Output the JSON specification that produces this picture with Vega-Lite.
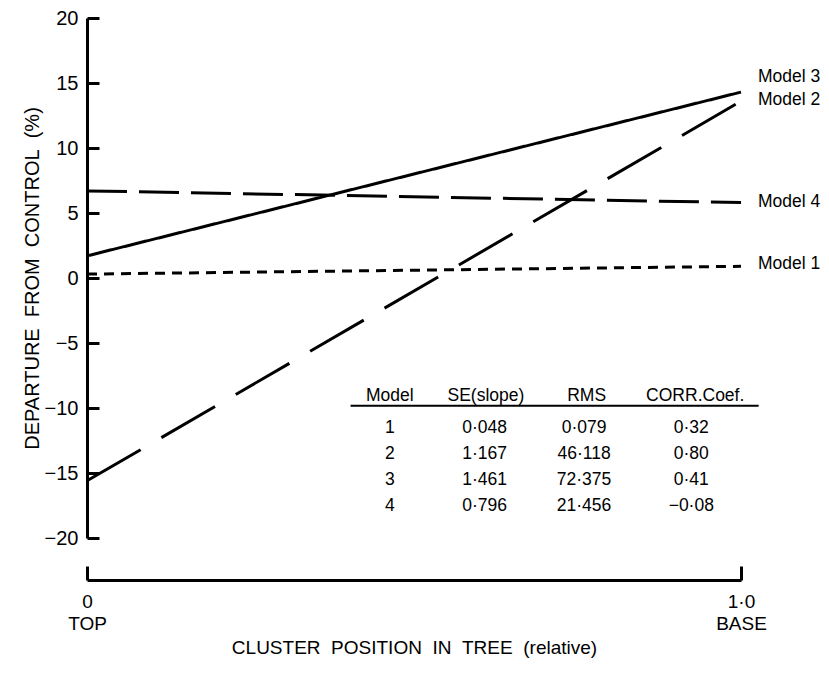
{
  "$schema": "https://vega.github.io/schema/vega-lite/v6.json",
  "width": 654,
  "height": 520,
  "autosize": "none",
  "padding": {"left": 87, "top": 18, "right": 88, "bottom": 135},
  "config": {"view": {"stroke": null}, "font": "Liberation Sans", "axis": {"grid": false}},
  "datasets": {
    "lines": [
      {"model": "Model 1", "x": 0, "y": 0.3},
      {"model": "Model 1", "x": 1, "y": 0.9},
      {"model": "Model 2", "x": 0, "y": -15.6},
      {"model": "Model 2", "x": 1, "y": 13.6},
      {"model": "Model 3", "x": 0, "y": 1.7},
      {"model": "Model 3", "x": 1, "y": 14.3},
      {"model": "Model 4", "x": 0, "y": 6.7},
      {"model": "Model 4", "x": 1, "y": 5.8}
    ],
    "labels": [
      {"t": "Model 3", "x": 1, "y": 15.45},
      {"t": "Model 2", "x": 1, "y": 13.7},
      {"t": "Model 4", "x": 1, "y": 5.85},
      {"t": "Model 1", "x": 1, "y": 1.1}
    ],
    "table": [
      {"t": "Model", "x": 0.463, "y": -9.1},
      {"t": "SE(slope)", "x": 0.61, "y": -9.1},
      {"t": "RMS", "x": 0.764, "y": -9.1},
      {"t": "CORR.Coef.", "x": 0.93, "y": -9.1},
      {"t": "1", "x": 0.463, "y": -11.56},
      {"t": "0·048", "x": 0.608, "y": -11.56},
      {"t": "0·079", "x": 0.76, "y": -11.56},
      {"t": "0·32", "x": 0.924, "y": -11.56},
      {"t": "2", "x": 0.463, "y": -13.54},
      {"t": "1·167", "x": 0.608, "y": -13.54},
      {"t": "46·118", "x": 0.76, "y": -13.54},
      {"t": "0·80", "x": 0.924, "y": -13.54},
      {"t": "3", "x": 0.463, "y": -15.54},
      {"t": "1·461", "x": 0.608, "y": -15.54},
      {"t": "72·375", "x": 0.76, "y": -15.54},
      {"t": "0·41", "x": 0.924, "y": -15.54},
      {"t": "4", "x": 0.463, "y": -17.54},
      {"t": "0·796", "x": 0.608, "y": -17.54},
      {"t": "21·456", "x": 0.76, "y": -17.54},
      {"t": "−0·08", "x": 0.924, "y": -17.54}
    ],
    "rule": [{"x": 0.403, "x2": 1.027, "y": -9.82}]
  },
  "encoding": {
    "x": {
      "field": "x", "type": "quantitative",
      "scale": {"domain": [0, 1], "nice": false, "zero": false},
      "axis": {
        "title": "CLUSTER\u00a0\u00a0POSITION\u00a0\u00a0IN\u00a0\u00a0TREE\u00a0\u00a0(relative)",
        "values": [0, 1],
        "labelExpr": "datum.value == 0 ? ['0', 'TOP'] : ['1·0', 'BASE']",
        "offset": 42,
        "tickSize": -14,
        "tickWidth": 3,
        "tickColor": "black",
        "domainWidth": 3,
        "domainColor": "black",
        "labelFontSize": 19,
        "labelColor": "black",
        "labelPadding": 26,
        "labelLineHeight": 22,
        "labelFlush": false,
        "labelOverlap": false,
        "titleFontSize": 19,
        "titleFontWeight": "normal",
        "titleColor": "black",
        "titlePadding": 5
      }
    },
    "y": {
      "field": "y", "type": "quantitative",
      "scale": {"domain": [-20, 20], "nice": false, "zero": false},
      "axis": {
        "title": "DEPARTURE\u00a0\u00a0FROM\u00a0\u00a0CONTROL\u00a0\u00a0(%)",
        "values": [-20, -15, -10, -5, 0, 5, 10, 15, 20],
        "tickSize": -12,
        "tickWidth": 3,
        "tickColor": "black",
        "domainWidth": 3,
        "domainColor": "black",
        "labelFontSize": 20,
        "labelColor": "black",
        "labelPadding": 21,
        "labelOverlap": false,
        "titleFontSize": 20,
        "titleFontWeight": "normal",
        "titleColor": "black",
        "titlePadding": 2
      }
    }
  },
  "layer": [
    {
      "data": {"name": "lines"},
      "mark": {"type": "line", "strokeWidth": 3, "color": "black", "strokeCap": "butt"},
      "encoding": {
        "detail": {"field": "model"},
        "strokeDash": {
          "field": "model", "type": "nominal",
          "scale": {"domain": ["Model 1", "Model 2", "Model 3", "Model 4"], "range": [[10, 7], [62, 24], [1, 0], [40, 12]]},
          "legend": null
        }
      }
    },
    {
      "data": {"name": "labels"},
      "mark": {"type": "text", "align": "left", "baseline": "middle", "dx": 17, "fontSize": 17.5, "color": "black"},
      "encoding": {"text": {"field": "t"}}
    },
    {
      "data": {"name": "table"},
      "mark": {"type": "text", "align": "center", "baseline": "middle", "fontSize": 17.5, "color": "black"},
      "encoding": {"text": {"field": "t"}}
    },
    {
      "data": {"name": "rule"},
      "mark": {"type": "rule", "strokeWidth": 2, "color": "black"},
      "encoding": {"x2": {"field": "x2"}}
    }
  ]
}
